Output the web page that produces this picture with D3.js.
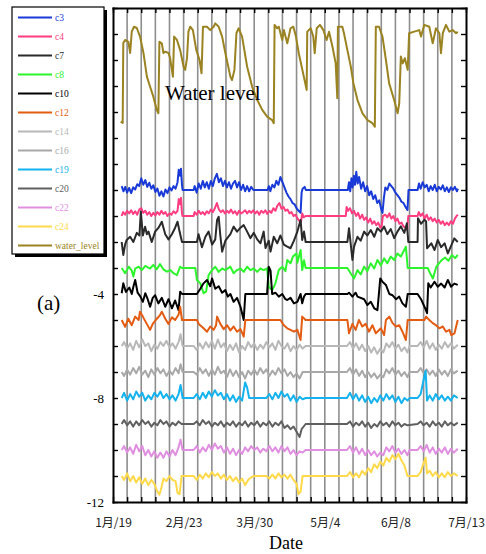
<!DOCTYPE html>
<html lang="en">
<head>
<meta charset="UTF-8" />
<title>Water level</title>
<style>
  body { margin: 0; background: #fff; }
  svg { display: block; background: #fff; }
  .serif { font-family: "Liberation Serif", "DejaVu Serif", serif; }
  .axis path, .axis line { stroke: #000; }
  .axis path { stroke-width: 2; }
  .axis line { stroke-width: 1.4; }
  .x-labels text { font-family: "Noto Sans CJK JP", "Noto Sans", sans-serif; font-size: 12px; fill: #222; }
  .y-labels text { font-family: "Liberation Serif", serif; font-size: 13px; fill: #000; }
  .trace { fill: none; stroke-width: 2; stroke-linejoin: round; }
</style>
</head>
<body>
<svg width="486" height="554"></svg>
<script src="https://d3js.org/d3.v7.min.js"></script>
<script>
// days are counted from 1/19, values are the plotted (offset) depths
const startDate = new Date(Date.UTC(2015, 0, 19));
const endDate = new Date(Date.UTC(2015, 6, 13));
const labelDays = [0, 35, 70, 105, 140, 175];
const yLabelValues = [-4, -8, -12];

const seriesNames = ["c3", "c4", "c7", "c8", "c10", "c12", "c14", "c16", "c19", "c20", "c22", "c24", "water_level"];
const seriesColors = ["#1a3ad8", "#ff3d80", "#2a2a2a", "#2cf52c", "#000000", "#e35c12", "#b8b8b8", "#a8a8a8", "#14b2ee", "#606060", "#e08fe0", "#ffd94a", "#9a8320"];

const waterLevel = [[3.8,2.63],[4.8,2.58],[5.1,5.65],[6,5.77],[7.6,5.7],[8.5,5.27],[9.3,6.09],[10.4,6.28],[11.8,6.23],[13.4,5.9],[15.1,5.27],[16.8,4.36],[18.4,3.97],[20,3.59],[21.7,3.08],[22.5,2.95],[23,5.7],[24.2,5.64],[25,5.27],[25.9,5.32],[27.5,5.27],[28.3,5.08],[29.7,4.36],[30.3,5.9],[31.7,5.77],[33.3,5.38],[35,4.74],[35.8,4.62],[36.7,5.08],[37.4,6.09],[38.3,6.28],[39.6,6.15],[41.3,5.38],[42.9,5],[43.9,4.49],[44.6,6.28],[46.6,6.28],[48.2,6.15],[49.9,6.28],[50.7,6.41],[52.4,6.28],[54.1,5.9],[55.7,5.27],[58.2,4.36],[59,4.23],[60.2,4.62],[61.2,6.04],[62.3,6.22],[64,5.9],[66.5,4.74],[69,3.97],[71.5,3.46],[74,3.08],[76.4,2.82],[78.9,2.69],[79.7,2.57],[80.1,6.35],[81.4,6.22],[82.2,6.28],[83.9,5.77],[84.7,6.15],[86.4,5.64],[88,6.22],[89.4,6.28],[90.7,5.9],[92.1,5.26],[94.6,4.36],[96,3.85],[96.3,6.09],[98,6.22],[99.3,5.9],[100,5.26],[101,6.22],[102.6,6.35],[104.3,6.15],[105.9,5.77],[107.1,6.09],[108.8,5.51],[110.4,4.87],[111.2,3.53],[111.5,6.28],[113.7,6.28],[114.5,6.03],[116.2,5.38],[117.9,4.74],[119.2,4.1],[121.2,3.46],[123.7,2.95],[126.2,2.69],[128.6,2.57],[129.8,2.43],[130.3,6.28],[131.9,6.28],[133.6,5.9],[135.3,5],[136.9,4.1],[139.4,3.46],[141.1,2.95],[141.9,3.33],[142.7,5.13],[143.6,4.87],[144.7,5.07],[146.1,4.62],[146.8,6.03],[149.3,6.09],[151.8,6.15],[152.7,5.9],[154.3,6.35],[156.8,6.28],[158.5,5.64],[160.1,6.22],[161.8,6.03],[162.6,5.26],[163.5,6.03],[165.1,6.35],[166.7,6.09],[168.4,6.15],[170.1,6.03],[170.9,6.09]];

const c3 = [[4.3,0.15],[5.2,-0.05],[6.1,0.12],[7,-0.1],[8,0.08],[9,-0.12],[10,0.1],[11,0.02],[12,0.22],[13,0.15],[14,0.45],[15,0.2],[16,0.38],[17,0.12],[18,0.28],[19,0.05],[20,0.18],[21,-0.08],[22,0.06],[23,-0.22],[24,-0.05],[25,-0.25],[26,0.02],[27,-0.12],[28,0.1],[29,-0.02],[30,0.15],[31,0.05],[32,0.3],[32.6,0.78],[33.2,0.55],[33.7,0.82],[34.2,0.2],[34.5,0],[40,0],[40.5,0.15],[41.5,-0.1],[42.5,0.25],[43.5,0.05],[44.5,0.35],[45.5,0.1],[46.5,0.3],[47.5,0.05],[48.5,0.35],[49.5,0.15],[50.5,0.45],[51.5,0.62],[52.5,0.3],[53.5,0.45],[54.5,0.15],[55.5,0.35],[56.5,0.1],[57.5,0.3],[58.5,0.05],[59.5,0.25],[60.5,0.35],[61.5,0.1],[62.5,0.3],[63.5,0],[64.5,0.2],[65.5,-0.05],[66.5,0.15],[67.5,-0.05],[68.5,0.12],[69.6,0],[76.6,0],[77.3,0.15],[78,-0.05],[79,0.2],[80,0.1],[81,0.35],[82,0.2],[83,0.5],[84,0.3],[85,0.1],[86,-0.1],[87,-0.25],[88,-0.35],[89,-0.5],[90,-0.55],[91,-0.7],[92,-0.8],[93,-0.88],[93.5,-0.1],[94,0.05],[95,0.12],[95.6,0],[116.4,0],[117,0.3],[117.6,-0.05],[118.2,0.45],[118.8,0.1],[119.4,0.55],[120,0.2],[120.6,0.7],[121.3,0.25],[122,0.5],[123,0.05],[124,0.3],[125,-0.05],[126,0.15],[127,-0.2],[128,-0.05],[129,-0.35],[130,-0.2],[131,-0.5],[132,-0.4],[133,-0.75],[133.6,-0.88],[134.3,-0.3],[135,0.1],[136,0],[137,0.25],[138,0.15],[139,0.05],[140,-0.1],[141,-0.2],[142,-0.3],[143,-0.45],[144,-0.5],[145,-0.65],[146,-0.77],[146.5,0],[151,0],[151.7,0.25],[152.5,0.05],[153.5,0.3],[154.5,0.1],[155.5,0.2],[156.5,-0.05],[157.5,0.15],[158.5,0],[159.5,0.2],[160.5,-0.05],[161.5,0.12],[162.5,0.02],[163.5,0.18],[164.5,-0.05],[165.5,0.1],[166.5,-0.08],[167.5,0.1],[168.5,0],[169.5,0.12],[170.5,-0.05],[171,0.05]];

const c4 = [[4.3,-1],[5,-0.85],[6,-0.95],[7,-0.8],[8,-0.9],[9,-0.78],[10,-0.92],[11,-0.82],[12,-0.95],[13,-0.75],[14,-0.7],[15,-0.88],[16,-0.8],[17,-0.95],[18,-0.85],[19,-1],[20,-0.88],[21,-0.98],[22,-0.85],[23,-0.95],[24,-0.8],[25,-0.92],[26,-0.85],[27,-1],[28,-0.9],[29,-0.95],[30,-0.82],[31,-0.9],[32,-0.8],[32.6,-0.35],[33.2,-0.55],[33.7,-0.3],[34.2,-0.9],[34.5,-1],[40,-1],[40.5,-0.85],[41.5,-0.95],[42.5,-0.8],[43.5,-0.92],[44.5,-0.85],[45.5,-0.95],[46.5,-0.82],[47.5,-0.9],[48.5,-0.75],[49.5,-0.85],[50.5,-0.7],[51.5,-0.5],[52.5,-0.75],[53.5,-0.85],[54.5,-0.78],[55.5,-0.9],[56.5,-0.8],[57.5,-0.88],[58.5,-0.75],[59.5,-0.9],[60.5,-0.82],[61.5,-0.95],[62.5,-0.8],[63.5,-0.9],[64.5,-0.85],[65.5,-0.78],[66.5,-0.9],[67.5,-0.8],[68.5,-0.88],[69.5,-0.78],[70.5,-0.9],[71.5,-0.82],[72.5,-0.95],[73.5,-0.8],[74.5,-0.88],[75.5,-0.78],[76.5,-0.92],[77.5,-0.8],[78.5,-0.88],[79.5,-0.7],[80.5,-0.8],[81.5,-0.6],[82.5,-0.5],[83.5,-0.72],[84.5,-0.65],[85.5,-0.8],[86.5,-0.75],[87.5,-0.9],[88.5,-0.85],[89.5,-1],[90.5,-0.95],[91.5,-1.1],[92.5,-1.2],[93.2,-1.23],[93.8,-0.9],[94.5,-1.05],[95.5,-1],[115.4,-1],[115.8,-0.65],[116.5,-0.8],[117.5,-0.7],[118.5,-0.9],[119.5,-0.8],[120.5,-1],[121.5,-0.88],[122.5,-1.1],[123.5,-0.95],[124.5,-1.15],[125.5,-1.05],[126.5,-1.25],[127.5,-1.1],[128.5,-1.3],[129.5,-1.2],[130.5,-1.35],[131.5,-1.25],[132.5,-1.45],[133.2,-1.4],[133.8,-1],[135,-0.95],[136,-1.05],[137,-0.9],[138,-1.1],[139,-1],[140,-1.2],[141,-1.1],[142,-1.3],[143,-1.25],[144,-1.4],[145,-1.45],[145.8,-1.54],[146.4,-1],[151,-1],[151.6,-0.85],[152.5,-1],[153.5,-0.9],[154.5,-1.1],[155.5,-0.95],[156.5,-1.15],[157.5,-1.05],[158.5,-1.2],[159.5,-1.1],[160.5,-1.25],[161.5,-1.15],[162.5,-1.3],[163.5,-1.2],[164.5,-1.35],[165.5,-1.25],[166.5,-1.35],[167.5,-1.2],[168.5,-1.3],[169.5,-1.1],[170.3,-1],[171,-0.95]];

const c7 = [[4.3,-2],[5.1,-2.5],[6,-2.1],[6.8,-1.92],[8.5,-1.8],[10.1,-2],[11.8,-1.65],[13.1,-1.75],[13.8,-0.83],[14.8,-1.75],[15.9,-1.41],[16.8,-1.7],[17.6,-1.6],[19.2,-2],[20.9,-1.6],[22.5,-1.46],[24.2,-1.22],[25.9,-1.7],[27.5,-1.9],[29.2,-1.7],[30.8,-1.45],[32,-1.22],[33,-1.6],[34.2,-2],[41.6,-2],[42.4,-1.7],[44.1,-2.2],[45.8,-1.8],[47.4,-1.6],[49.1,-2.1],[50.7,-1.9],[51.6,-1.15],[52.4,-1.03],[53.2,-1.75],[54.1,-2.37],[55.7,-1.95],[58.2,-1.7],[59.8,-1.41],[61.5,-1.6],[63.2,-1.45],[64.8,-1.35],[66.5,-1.6],[68.1,-1.85],[69.8,-1.65],[71.5,-1.9],[73.1,-2.05],[74.7,-1.6],[75.6,-2.23],[77.2,-1.95],[78.1,-2.37],[79.7,-1.8],[81.4,-2.05],[83,-1.75],[84.7,-2.1],[86.4,-2.18],[88,-2.24],[89.7,-1.95],[91.4,-1.6],[93,-1.15],[93.8,-1.92],[94.7,-1.6],[95.5,-2],[116.2,-2],[117,-1.47],[118.7,-2.69],[119.5,-2.18],[121.2,-1.8],[122.8,-1.95],[124.5,-1.6],[126.1,-1.75],[127.8,-1.54],[129.5,-1.8],[131.1,-1.47],[132.8,-1.6],[134.4,-1.41],[136,-1.7],[137.7,-1.5],[139.4,-1.85],[141,-1.6],[142.7,-1.4],[144.4,-1.65],[145.7,-1.28],[146.4,-2],[151,-2],[151.2,-1.09],[152.7,-1.3],[154.4,-1.15],[155.2,-1.2],[155.7,-2.24],[157.8,-2.05],[159.4,-2.31],[161,-1.92],[162.7,-2.2],[164.4,-2.05],[166,-2.44],[167.6,-2.15],[169.2,-1.86],[170.9,-2]];

const c8 = [[4.3,-3],[6,-3.2],[7.8,-2.95],[9.3,-3.1],[10.1,-3.33],[11,-3.02],[12.7,-2.95],[14.3,-3.08],[16,-2.92],[18.4,-3.02],[20,-2.88],[21.7,-3.05],[23.3,-2.85],[25,-3.05],[26.7,-3.14],[28.4,-3.08],[30,-3.2],[31.7,-3.27],[33.3,-2.95],[34.2,-3],[40.8,-3],[41.6,-3.46],[43.3,-3.59],[44.9,-3.97],[46.2,-3.9],[47.4,-3.27],[49.1,-3.08],[50.7,-2.95],[52.4,-3.15],[54.1,-3.02],[55.7,-3.08],[58.2,-2.95],[59.8,-3.2],[61.5,-3.08],[63.2,-3.02],[64.8,-3.15],[66.5,-2.95],[68.1,-3.08],[69.8,-3.02],[71.5,-3.15],[73.1,-3.02],[74.7,-3.08],[76.4,-3.02],[77.2,-3.72],[78.9,-3.85],[80.5,-3.6],[82.2,-3.08],[83.9,-2.95],[85.5,-3.12],[86.4,-2.69],[88,-2.82],[89.2,-2.56],[90.9,-2.44],[91.4,-2.8],[93,-2.31],[93.8,-3.08],[94.7,-2.7],[95.5,-3],[116.2,-3],[117.8,-3.2],[119.5,-3.4],[121.2,-3.08],[122.8,-3.25],[124.5,-2.95],[126.1,-3.12],[127.8,-2.82],[129.5,-3.02],[131.1,-2.69],[132.8,-2.9],[134.4,-2.63],[136,-2.82],[137.7,-2.56],[139.4,-2.69],[141,-2.44],[142.7,-2.56],[145.2,-2.18],[146.1,-3],[156,-3],[157.2,-3.2],[158.6,-3.4],[160.3,-2.95],[161.6,-2.82],[163,-2.69],[164.6,-2.6],[166.3,-2.72],[168,-2.5],[169.6,-2.62],[170.9,-2.5]];

const c10 = [[4.3,-3.97],[5.1,-3.59],[6.4,-3.92],[8.1,-3.75],[9.3,-4],[10.1,-3.72],[11,-3.46],[12.2,-3.95],[13.6,-4.1],[14.8,-4.3],[16,-3.97],[17.2,-4.2],[18.4,-4.49],[19.7,-4.15],[20.9,-4.05],[22.5,-4.36],[24.2,-4.15],[25.9,-4.49],[27.5,-4.2],[29.2,-4.55],[30.8,-4.25],[32.5,-4.62],[33.3,-3.91],[34.2,-4],[41.6,-4],[43.3,-3.8],[44.9,-3.59],[46.6,-3.46],[48.2,-3.7],[49.1,-3.4],[50.7,-3.8],[52.4,-3.7],[54.1,-3.95],[55.7,-3.85],[56.9,-4.1],[58.2,-4],[59.8,-4.3],[61.5,-4.15],[63.2,-4.49],[64.8,-5],[65.6,-4],[76.4,-4],[77.2,-2.95],[78.1,-3.1],[78.9,-4],[80.5,-3.95],[82.2,-4.1],[83.9,-4],[85.5,-4.2],[86.4,-4.23],[88,-4.15],[89.7,-4.36],[91.4,-4.3],[93,-4],[93.8,-4.36],[94.7,-4.1],[95.5,-4],[116.2,-4],[117,-3.95],[118.7,-4.1],[120.3,-3.95],[121.2,-4.1],[124.5,-4.2],[126.1,-4.42],[127.8,-4.3],[129.5,-4.55],[131.1,-4.62],[132.5,-3.4],[133.6,-3.53],[135.3,-3.65],[137,-4],[138.6,-4.05],[140.3,-4.2],[141.9,-4.1],[143.5,-4.36],[145.2,-4.49],[146.1,-4],[151,-4],[152.7,-4.2],[154.4,-4.49],[155.7,-4.74],[156.3,-3.59],[157.5,-3.75],[159.4,-3.53],[161,-3.72],[162.7,-3.6],[164.4,-3.75],[166,-3.46],[167.6,-3.72],[169.2,-3.6],[170.9,-3.65]];

const c12 = [[4.3,-5],[6,-5.26],[7.6,-4.95],[9.3,-5.2],[11,-4.87],[12.7,-5],[13.4,-4.68],[14.8,-4.87],[16.4,-5.1],[18.4,-5.38],[19.7,-5.15],[21.2,-5],[23.3,-4.81],[24.2,-4.68],[25.9,-4.95],[27.5,-5.15],[29.2,-4.9],[30.8,-5],[32.5,-4.8],[33.3,-4.49],[34.2,-5],[41.6,-5],[42.5,-5.15],[44.9,-5.32],[46.6,-5.45],[48.2,-5.25],[49.9,-5.38],[51.1,-5.2],[51.6,-4.87],[53.2,-5.15],[54.9,-5.35],[56.6,-5.2],[58.2,-5.4],[59.8,-5.25],[61.5,-5.45],[63.2,-5.35],[64.8,-5.64],[65.6,-5],[83,-5],[84.7,-5.2],[86.4,-5.32],[88,-5.38],[89.7,-5.45],[91.4,-5.38],[93,-5.77],[93.8,-4.87],[95.5,-5],[116.2,-5],[117,-5.51],[118.7,-5.15],[120.3,-5.38],[121.9,-5],[123.6,-5.25],[125.3,-5.15],[126.9,-5.45],[128.6,-5.2],[130.3,-5.51],[132.8,-5.32],[134.4,-5.58],[135.3,-5],[137,-4.87],[138.6,-5.12],[140.3,-5.25],[141.9,-5.2],[143.5,-5.45],[145.2,-5.77],[146.1,-5],[154.4,-5],[155.2,-4.87],[156.8,-5],[158.5,-5.12],[160.1,-5.2],[161.8,-5.32],[163.5,-5.25],[165.1,-5.45],[166.8,-5.38],[167.7,-5.58],[169.3,-5.51],[170.9,-5]];

const c14 = [[4.3,-6],[5.5,-5.85],[7,-6.1],[8.5,-5.9],[10,-6.15],[11.5,-5.8],[13,-6.05],[14.5,-5.75],[16,-6],[17.5,-5.9],[19,-6.2],[20.5,-5.95],[22,-6.1],[23.5,-5.85],[25,-6],[26.5,-5.8],[28,-6.05],[29.5,-5.9],[31,-6.1],[32.5,-5.85],[33.5,-5.55],[34.5,-6],[40,-6],[41.5,-6.15],[43,-5.9],[44.5,-6.1],[46,-5.85],[47.5,-6.05],[49,-5.8],[50.5,-6.1],[52,-5.75],[53.5,-6.05],[55,-5.9],[56.5,-6.2],[58,-5.95],[59.5,-6.15],[61,-5.9],[62.5,-6.25],[64,-6],[65.5,-6.15],[67,-5.85],[68.5,-6.05],[70,-5.9],[71.5,-6.15],[73,-5.95],[74.5,-6.1],[76,-5.85],[77.5,-6.05],[79,-5.9],[80.5,-6.15],[82,-5.8],[83.5,-6],[85,-6.1],[86.5,-5.9],[88,-6.2],[89.5,-6],[91,-6.15],[92.5,-5.95],[94,-6.1],[95.5,-6],[116,-6],[117.5,-5.85],[119,-6.1],[120.5,-5.9],[122,-6.15],[123.5,-5.95],[125,-6.2],[126.5,-6],[128,-6.25],[129.5,-6.05],[131,-6.3],[132.5,-6.1],[134,-6.25],[135.5,-5.9],[137,-6.05],[138.5,-5.85],[140,-6.1],[141.5,-5.95],[143,-6.2],[144.5,-6.05],[146,-6.25],[147,-6],[151,-6],[152.5,-5.85],[154,-6.05],[155.5,-5.8],[157,-6.1],[158.5,-5.9],[160,-6.15],[161.5,-5.95],[163,-6.1],[164.5,-5.85],[166,-6.05],[167.5,-5.9],[169,-6.1],[170.9,-5.95]];

const c16 = [[4.3,-7],[5.5,-7.15],[7,-6.9],[8.5,-7.1],[10,-6.85],[11.5,-7.05],[13,-6.8],[14.5,-7.1],[16,-6.95],[17.5,-7.2],[19,-6.9],[20.5,-7.1],[22,-6.85],[23.5,-7.05],[25,-6.9],[26.5,-7.15],[28,-6.95],[29.5,-7.1],[31,-6.85],[32.5,-7.05],[33.5,-6.7],[34.5,-7],[40,-7],[41.5,-7.1],[43,-6.85],[44.5,-7.05],[46,-6.9],[47.5,-7.15],[49,-6.9],[50.5,-7.1],[52,-6.8],[53.5,-7.05],[55,-6.95],[56.5,-7.2],[58,-6.9],[59.5,-7.15],[61,-6.95],[62.5,-7.2],[64,-7],[65.5,-7.25],[67,-6.95],[68.5,-7.1],[70,-6.9],[71.5,-7.1],[73,-6.85],[74.5,-7.05],[76,-6.9],[77.5,-7.15],[79,-6.95],[80.5,-7.1],[82,-6.85],[83.5,-7.05],[85,-6.9],[86.5,-7.15],[88,-7],[89.5,-7.2],[91,-7.05],[92.5,-7.25],[94,-7],[95.5,-7],[116,-7],[117.5,-6.85],[119,-7.1],[120.5,-6.9],[122,-7.15],[123.5,-6.95],[125,-7.2],[126.5,-7],[128,-7.2],[129.5,-7.05],[131,-7.25],[132.5,-7.1],[134,-7.2],[135.5,-6.9],[137,-7.05],[138.5,-6.85],[140,-7.1],[141.5,-6.95],[143,-7.15],[144.5,-7],[146,-7.2],[147,-7],[151,-7],[152.5,-6.85],[154,-7.05],[155.5,-6.9],[157,-7.1],[158.5,-6.95],[160,-7.15],[161.5,-6.9],[163,-7.1],[164.5,-6.95],[166,-7.15],[167.5,-6.9],[169,-7.05],[170.9,-6.95]];

const c19 = [[4.3,-8],[5.5,-7.8],[7,-8.1],[8.5,-7.85],[10,-8.05],[11.5,-7.75],[13,-7.95],[14.5,-7.8],[16,-8.1],[17.5,-7.9],[19,-8.05],[20.5,-7.8],[22,-7.95],[23.5,-7.75],[25,-8],[26.5,-7.85],[28,-8.05],[29.5,-7.9],[31,-8.1],[32.5,-7.85],[33.5,-7.5],[34.5,-8],[40,-8],[41.5,-7.85],[43,-8.05],[44.5,-7.8],[46,-8],[47.5,-7.75],[49,-7.95],[50.5,-7.7],[52,-7.9],[53.5,-7.8],[55,-8.05],[56.5,-7.85],[58,-8.1],[59.5,-7.9],[61,-8.15],[62.5,-7.95],[64,-8.1],[65.5,-7.4],[66.5,-7.6],[67.5,-8],[76,-8],[77.5,-7.85],[79,-8.05],[80.5,-7.8],[82,-8],[83.5,-7.75],[85,-7.95],[86.5,-7.85],[88,-8.1],[89.5,-7.9],[91,-8.15],[92.5,-7.95],[94,-8.05],[95.5,-8],[116,-8],[117.5,-7.8],[119,-8.05],[120.5,-7.85],[122,-8.1],[123.5,-7.9],[125,-8.15],[126.5,-7.95],[128,-8.2],[129.5,-8],[131,-8.15],[132.5,-7.9],[134,-8.1],[135.5,-7.85],[137,-8.05],[138.5,-7.9],[140,-8.15],[141.5,-7.95],[143,-8.2],[144.5,-8],[146,-8.1],[147,-8],[151,-8],[152.5,-7.85],[154,-7.3],[155,-6.95],[155.7,-8.1],[157,-7.9],[158.5,-8.1],[160,-7.85],[161.5,-8.05],[163,-7.9],[164.5,-8.1],[166,-7.95],[167.5,-8.1],[169,-7.9],[170.9,-8]];

const c20 = [[4.3,-9],[5.5,-8.85],[7,-9.05],[8.5,-8.9],[10,-9.1],[11.5,-8.9],[13,-9.05],[14.5,-8.85],[16,-9],[17.5,-8.9],[19,-9.1],[20.5,-8.95],[22,-9.05],[23.5,-8.85],[25,-9],[26.5,-8.9],[28,-9.1],[29.5,-8.95],[31,-9.05],[32.5,-8.9],[34,-9],[40,-9],[41.5,-8.9],[43,-9.05],[44.5,-8.85],[46,-9],[47.5,-8.9],[49,-9.1],[50.5,-8.95],[52,-9.05],[53.5,-8.9],[55,-9.1],[56.5,-8.95],[58,-9.05],[59.5,-8.9],[61,-9.1],[62.5,-8.95],[64,-9.05],[65.5,-8.9],[67,-9.1],[68.5,-8.95],[70,-9.05],[71.5,-8.9],[73,-9.1],[74.5,-8.95],[76,-9.05],[77.5,-8.9],[79,-9.1],[80.5,-8.95],[82,-9.05],[83.5,-8.9],[85,-9.15],[86.5,-9.05],[88,-9.2],[89.5,-9.1],[91,-9.3],[92.5,-9.5],[93.5,-9.2],[95.5,-9],[116,-9],[117.5,-8.9],[119,-9.1],[120.5,-8.95],[122,-9.05],[123.5,-8.9],[125,-9.1],[126.5,-8.95],[128,-9.15],[129.5,-9],[131,-9.1],[132.5,-8.9],[134,-9.05],[135.5,-8.95],[137,-9.1],[138.5,-8.9],[140,-9.05],[141.5,-8.95],[143,-9.1],[144.5,-9],[146,-9.05],[151,-9],[152.5,-8.9],[154,-9.05],[155.5,-8.95],[157,-9.1],[158.5,-8.9],[160,-9.05],[161.5,-8.95],[163,-9.1],[164.5,-8.9],[166,-9.05],[167.5,-8.95],[169,-9.05],[170.9,-8.95]];

const c22 = [[4.3,-10],[5.5,-9.85],[7,-10.1],[8.5,-9.9],[10,-10.15],[11.5,-9.8],[13,-10.05],[14.5,-9.85],[16,-10.2],[17.5,-10],[19,-10.25],[20.5,-10.05],[22,-10.3],[23.5,-10.1],[25,-10.3],[26.5,-10.05],[28,-10.25],[29.5,-10],[31,-10.2],[32.5,-9.9],[33.5,-9.6],[34.5,-10],[40,-10],[41.5,-9.85],[43,-10.1],[44.5,-9.9],[46,-10.05],[47.5,-9.8],[49,-10],[50.5,-9.75],[52,-9.95],[53.5,-9.85],[55,-10.1],[56.5,-9.9],[58,-10.15],[59.5,-9.95],[61,-10.2],[62.5,-10],[64,-10.15],[65.5,-9.9],[67,-10.05],[68.5,-9.85],[70,-10],[71.5,-9.9],[73,-10.1],[74.5,-9.95],[76,-10.05],[77.5,-9.85],[79,-10.05],[80.5,-9.9],[82,-10.1],[83.5,-9.85],[85,-10.05],[86.5,-9.9],[88,-10.15],[89.5,-10],[91,-10.2],[92.5,-10.05],[94,-10.1],[95.5,-10],[116,-10],[117.5,-9.85],[119,-10.1],[120.5,-9.9],[122,-10.15],[123.5,-9.95],[125,-10.2],[126.5,-10],[128,-10.2],[129.5,-10.05],[131,-10.25],[132.5,-10.1],[134,-10.2],[135.5,-9.9],[137,-10.05],[138.5,-9.85],[140,-10.1],[141.5,-9.95],[143,-10.15],[144.5,-10],[146,-10.2],[147,-10],[151,-10],[152.5,-9.85],[154,-10.05],[155.5,-9.8],[157,-10.1],[158.5,-9.9],[160,-10.15],[161.5,-9.95],[163,-10.1],[164.5,-9.9],[166,-10.15],[167.5,-9.95],[169,-10.1],[170.9,-9.95]];

const c24 = [[4.3,-11],[5.5,-11.15],[7,-10.9],[8.5,-11.2],[10,-11],[11.5,-11.25],[13,-11.05],[14.5,-11.3],[16,-11.1],[17.5,-11.35],[19,-11.15],[20.5,-11.3],[22,-11.6],[23,-11.72],[24,-11.45],[25,-11.1],[26.5,-11.2],[28,-11],[29.5,-11.15],[31,-11.2],[32,-11.65],[33,-11.7],[34,-11],[40,-11],[41.5,-11.15],[43,-10.95],[44.5,-11.1],[46,-10.9],[47.5,-11.05],[49,-10.85],[50.5,-11],[52,-10.9],[53.5,-11.1],[55,-10.95],[56.5,-11.15],[58,-11],[59.5,-11.2],[61,-11.05],[62.5,-11.25],[64,-11.1],[65.5,-11.35],[67,-11.15],[68.5,-11.05],[70,-11],[76,-11],[77.5,-11.1],[79,-10.95],[80.5,-11.1],[82,-10.9],[83.5,-11.05],[85,-10.95],[86.5,-11.1],[88,-10.95],[89.5,-11.15],[91,-11.3],[92,-11.7],[93,-11.6],[94,-11],[95.5,-11],[116,-11],[117.5,-10.85],[119,-11.05],[120.5,-10.9],[122,-11.05],[123.5,-10.8],[125,-10.95],[126.5,-10.7],[128,-10.85],[129.5,-10.55],[131,-10.7],[132.5,-10.45],[134,-10.6],[135.5,-10.3],[137,-10.45],[138.5,-10.2],[140,-10.35],[141.5,-10.15],[143,-10.4],[144.5,-10.6],[146,-11],[151,-11],[152.5,-10.85],[154,-10.5],[155,-10.3],[155.7,-10.9],[157,-10.8],[158.5,-11],[160,-10.85],[161.5,-11.05],[163,-10.9],[164.5,-11.05],[166,-10.85],[167.5,-11],[169,-10.9],[170.9,-11]];

const seriesData = [c3, c4, c7, c8, c10, c12, c14, c16, c19, c20, c22, c24, waterLevel];

const svg = d3.select("svg");
const x = d3.scaleUtc().domain([startDate, endDate]).range([113, 466]);
const y = d3.scaleLinear().domain([-12, 7]).range([502, 8]);
const dayDate = d => new Date(startDate.getTime() + d * 864e5);

const mondays = d3.utcMonday.range(startDate, d3.utcDay.offset(endDate, 1));
const labelDates = labelDays.map(d => +d3.utcDay.offset(startDate, d));
const fmt = d3.utcFormat("%-m月/%-d");

// weekly gray guide lines
svg.append("g").selectAll("line")
  .data(mondays.slice(1, -1))
  .join("line")
  .attr("x1", d => x(d)).attr("x2", d => x(d))
  .attr("y1", y(7)).attr("y2", y(-12))
  .attr("stroke", "#8e8e8e")
  .attr("stroke-width", 1.6);

const line = d3.line()
  .x(d => x(dayDate(d[0])))
  .y(d => y(d[1]));

svg.append("g").selectAll("path")
  .data(seriesData)
  .join("path")
  .attr("class", "trace")
  .attr("stroke", (d, i) => seriesColors[i])
  .attr("d", line);

// axes, ticks pointing inward
const yTicks = d3.range(-12, 8);
svg.append("g").attr("class", "axis x-labels")
  .attr("transform", `translate(0,${y(-12)})`)
  .call(d3.axisBottom(x).tickValues(mondays).tickSizeInner(-5).tickSizeOuter(0).tickPadding(16)
    .tickFormat(d => labelDates.includes(+d) ? fmt(d) : ""));
svg.append("g").attr("class", "axis")
  .attr("transform", `translate(0,${y(7)})`)
  .call(d3.axisTop(x).tickValues(mondays).tickSizeInner(-5).tickSizeOuter(0).tickFormat(""));
svg.append("g").attr("class", "axis y-labels")
  .attr("transform", `translate(${x(startDate)},0)`)
  .call(d3.axisLeft(y).tickValues(yTicks).tickSizeInner(-5).tickSizeOuter(0).tickPadding(9)
    .tickFormat(d => yLabelValues.includes(d) ? d : ""));
svg.append("g").attr("class", "axis")
  .attr("transform", `translate(${x(endDate)},0)`)
  .call(d3.axisRight(y).tickValues(yTicks).tickSizeInner(-5).tickSizeOuter(0).tickFormat(""));
svg.selectAll(".axis .domain").attr("stroke-linecap", "square");

// annotations
svg.append("text").attr("class", "serif")
  .attr("x", 165).attr("y", 100)
  .attr("font-size", 21)
  .text("Water level");
svg.append("text").attr("class", "serif")
  .attr("x", 37).attr("y", 310)
  .attr("font-size", 21)
  .text("(a)");
svg.append("text").attr("class", "serif")
  .attr("x", 286).attr("y", 549)
  .attr("text-anchor", "middle")
  .attr("font-size", 18)
  .text("Date");

// legend with drop shadow
const legend = svg.append("g");
legend.append("rect").attr("x", 15).attr("y", 10).attr("width", 92).attr("height", 247).attr("fill", "#000");
legend.append("rect").attr("x", 12).attr("y", 7).attr("width", 92).attr("height", 247)
  .attr("fill", "#fff").attr("stroke", "#000").attr("stroke-width", 1.2);
const item = legend.selectAll("g.item")
  .data(seriesNames)
  .join("g").attr("class", "item")
  .attr("transform", (d, i) => `translate(0,${17.5 + i * 19})`);
item.append("line")
  .attr("x1", 18).attr("x2", 52)
  .attr("stroke", (d, i) => seriesColors[i])
  .attr("stroke-width", 2);
item.append("text")
  .attr("x", 55).attr("y", 3.5)
  .attr("font-family", "'Liberation Serif', serif")
  .attr("font-size", 9.5)
  .attr("fill", (d, i) => seriesColors[i])
  .text(d => d);
</script>
</body>
</html>
